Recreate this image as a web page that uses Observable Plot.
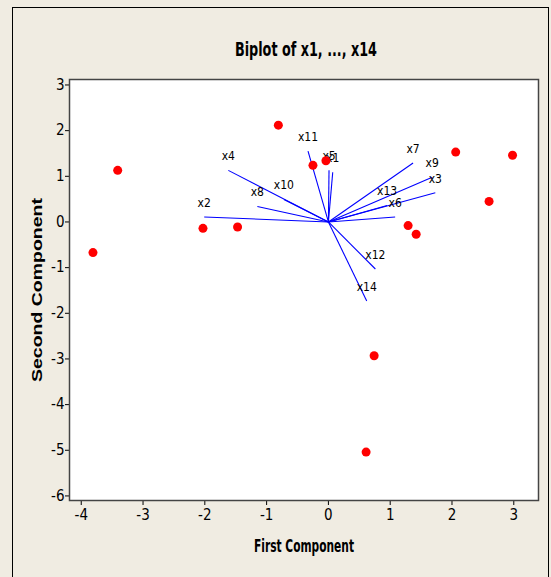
<!DOCTYPE html>
<html>
<head>
<meta charset="utf-8">
<script src="https://cdn.jsdelivr.net/npm/d3@7"></script>
<script src="https://cdn.jsdelivr.net/npm/@observablehq/plot@0.6"></script>
<style>
  html, body { margin: 0; padding: 0; background: #F0ECE2; }
  #wrap { position: relative; width: 551px; height: 577px; overflow: hidden; }
  #border { position: absolute; left: 12px; top: 7px; width: 537px; height: 580px; border: 1px solid #000; box-sizing: border-box; pointer-events: none; }
</style>
</head>
<body>
<div id="wrap"><div id="border"></div></div>
<script>
// Scores (observations)
const scoreX = [-3.81, -3.41, -2.03, -1.47, -0.81, -0.25, -0.04, 1.29, 1.42, 2.06, 2.60, 2.98, 0.74, 0.61];
const scoreY = [-0.67, 1.13, -0.14, -0.11, 2.12, 1.24, 1.34, -0.08, -0.27, 1.53, 0.45, 1.46, -2.93, -5.04];

// Loadings (variables)
const varNames = ["x1","x2","x3","x4","x5","x6","x7","x8","x9","x10","x11","x12","x13","x14"];
const loadX = [0.07, -2.01, 1.73, -1.62, 0.01, 1.08, 1.37, -1.15, 1.68, -0.72, -0.33, 0.76, 0.95, 0.62];
const loadY = [1.09, 0.11, 0.64, 1.13, 1.13, 0.11, 1.29, 0.34, 0.98, 0.49, 1.55, -1.03, 0.36, -1.73];

const xTicks = [-4, -3, -2, -1, 0, 1, 2, 3];
const yTicks = [-6, -5, -4, -3, -2, -1, 0, 1, 2, 3];

const titleText = "Biplot of x1, ..., x14";
const xLabel = "First Component";
const yLabel = "Second Component";

const scores = scoreX.map((x, i) => ({x, y: scoreY[i]}));
const vectors = varNames.map((name, i) => ({name, x: loadX[i], y: loadY[i]}));

const narrow = "'Liberation Sans Narrow', 'DejaVu Sans Condensed', sans-serif";

const chart = Plot.plot({
  width: 551,
  height: 577,
  marginLeft: 69,
  marginRight: 13,
  marginTop: 79,
  marginBottom: 77,
  style: {background: "transparent", fontFamily: narrow, fontSize: "15px", color: "#000"},
  x: {domain: [-4.19, 3.40]},
  y: {domain: [-6.1, 3.12]},
  marks: [
    Plot.frame({fill: "white", stroke: null}),
    Plot.axisX({ticks: xTicks, tickSize: 5, tickPadding: 4, tickFormat: d => String(d), label: null, fontSize: 15, stroke: "#000"}),
    Plot.axisY({ticks: yTicks, tickSize: 4, tickPadding: 1, tickFormat: d => String(d), label: null, fontSize: 15, stroke: "#000"}),
    Plot.link(vectors, {x1: d => 0, y1: d => 0, x2: "x", y2: "y", stroke: "#0000FF", strokeWidth: 1.1}),
    Plot.text(vectors, {x: "x", y: "y", text: "name", dy: -14, fontSize: 12, fill: "#000", fontFamily: narrow}),
    Plot.dot(scores, {x: "x", y: "y", r: 4.5, fill: "#FF0000", stroke: null}),
    Plot.frame({stroke: "#444", strokeWidth: 1.5}),
    Plot.text([titleText], {frameAnchor: "top", lineAnchor: "middle", dy: -30, dx: 2, fontSize: 20, fontWeight: "bold", fill: "#000", fontFamily: narrow, className: "ttl"}),
    Plot.text([xLabel], {frameAnchor: "bottom", lineAnchor: "middle", dy: 46, fontSize: 17, fontWeight: "bold", fill: "#000", fontFamily: narrow, className: "xlab"}),
    Plot.text([yLabel], {frameAnchor: "left", textAnchor: "middle", lineAnchor: "middle", dx: -32, rotate: -90, fontSize: 14.5, fontWeight: "bold", fill: "#000", fontFamily: "'Liberation Sans', Arial, sans-serif", className: "ylab"})
  ]
});

// fit the condensed label widths of the reference
const fit = (cls, len) => d3.select(chart).selectAll(`g.${cls} text`).attr("textLength", len).attr("lengthAdjust", "spacingAndGlyphs");
fit("ttl", 142);
fit("xlab", 100);
fit("ylab", 184);

document.getElementById("wrap").insertBefore(chart, document.getElementById("border"));
</script>
</body>
</html>
